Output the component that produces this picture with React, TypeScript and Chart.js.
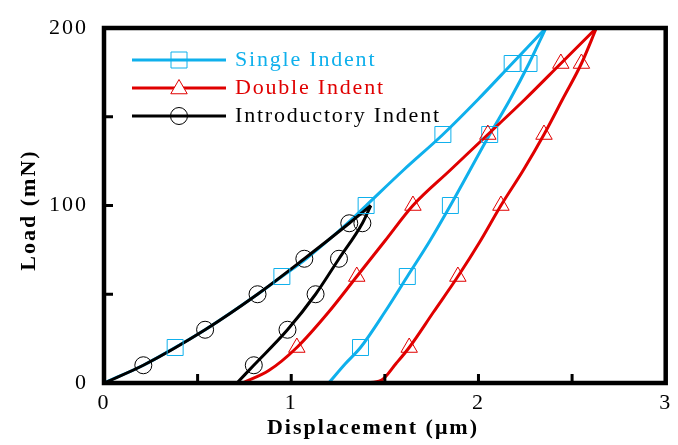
import React, { useEffect, useRef } from 'react';
import { Chart, registerables } from 'chart.js';
Chart.register(...registerables);

const BLUE = '#0fb0ec';
const RED = '#e00000';
const BLACK = '#000000';
const FONT = '"Liberation Serif", "Times New Roman", serif';

const xTickValues = [0, 1, 2, 3];
const yTickValues = [0, 100, 200];
const xMinorTicks = [0.5, 1, 1.5, 2, 2.5];
const yMinorTicks = [50, 100, 150];

const seriesNames = ['Single Indent', 'Double Indent', 'Introductory Indent'];

// Single Indent
const singleLoadX = [0, 0.21, 0.38, 0.54, 0.82, 0.95, 1.08, 1.3, 1.4, 1.6, 1.81, 2.0, 2.18, 2.36];
const singleLoadY = [0, 10, 20, 30, 50, 60, 70, 90, 100, 120, 140, 160, 180, 200];
const singleUnloadX = [1.2, 1.29, 1.37, 1.5, 1.62, 1.74, 1.85, 2.06, 2.17, 2.27, 2.36];
const singleUnloadY = [0, 11, 20, 40, 60, 80, 100, 140, 160, 180, 200];
const singleMarkX = [0.38, 0.95, 1.4, 1.81, 2.18, 2.27, 2.06, 1.85, 1.62, 1.37];
const singleMarkY = [20, 60, 100, 140, 180, 180, 140, 100, 60, 20];

// Double Indent
const doubleLoadX = [0.74, 0.88, 1.03, 1.2, 1.35, 1.5, 1.65, 1.85, 2.05, 2.25, 2.44, 2.63];
const doubleLoadY = [0, 7, 20, 40, 60, 80, 100, 120, 140, 160, 180, 200];
const doubleUnloadX = [1.4, 1.48, 1.56, 1.63, 1.76, 1.89, 2.01, 2.12, 2.24, 2.35, 2.45, 2.55, 2.63];
const doubleUnloadY = [0, 1.5, 11, 20, 40, 60, 80, 100, 120, 140, 160, 180, 200];
const doubleMarkX = [1.03, 1.35, 1.65, 2.05, 2.44, 2.55, 2.35, 2.12, 1.89, 1.63];
const doubleMarkY = [20, 60, 100, 140, 180, 180, 140, 100, 60, 20];

// Introductory Indent
const introLoadX = [0, 0.21, 0.54, 0.82, 1.07, 1.31, 1.425];
const introLoadY = [0, 10, 30, 50, 70, 90, 100];
const introUnloadX = [0.71, 0.8, 0.98, 1.13, 1.255, 1.38, 1.425];
const introUnloadY = [0, 10, 30, 50, 70, 90, 100];
const introMarkX = [0.21, 0.54, 0.82, 1.07, 1.31, 1.38, 1.255, 1.13, 0.98, 0.8];
const introMarkY = [10, 30, 50, 70, 90, 90, 70, 50, 30, 10];

const pts = (xs: number[], ys: number[]) => xs.map((x, i) => ({ x, y: ys[i] }));

function drawMarker(ctx: CanvasRenderingContext2D, style: string, x: number, y: number, color: string) {
  ctx.save();
  ctx.strokeStyle = color;
  ctx.lineWidth = 1;
  ctx.fillStyle = '#ffffff';
  ctx.beginPath();
  if (style === 'rect') {
    ctx.rect(x - 8, y - 8, 16, 16);
    ctx.stroke();
  } else if (style === 'triangle') {
    const r = 9.5;
    ctx.moveTo(x, y - r);
    ctx.lineTo(x + r * Math.sin(Math.PI * 2 / 3), y + r / 2);
    ctx.lineTo(x - r * Math.sin(Math.PI * 2 / 3), y + r / 2);
    ctx.closePath();
    ctx.fill();
    ctx.stroke();
  } else {
    ctx.arc(x, y, 8.5, 0, Math.PI * 2);
    ctx.stroke();
  }
  ctx.restore();
}

const decorPlugin = {
  id: 'decor',
  beforeDraw(chart: any) {
    (chart.ctx as any).letterSpacing = '2px';
  },
  afterDraw(chart: any) {
    const ctx: CanvasRenderingContext2D = chart.ctx;
    const { left, right, top, bottom } = chart.chartArea;
    const xs = chart.scales.x;
    const ys = chart.scales.y;
    ctx.save();
    (ctx as any).letterSpacing = '0px';
    // inward ticks
    ctx.strokeStyle = '#000';
    ctx.lineWidth = 3;
    ctx.beginPath();
    xMinorTicks.forEach((v) => {
      const px = xs.getPixelForValue(v);
      ctx.moveTo(px, bottom);
      ctx.lineTo(px, bottom - 9);
    });
    yMinorTicks.forEach((v) => {
      const py = ys.getPixelForValue(v);
      ctx.moveTo(left, py);
      ctx.lineTo(left + 9, py);
    });
    ctx.stroke();
    // frame
    ctx.lineWidth = 4.5;
    ctx.strokeRect(left, top, right - left, bottom - top);

    // legend
    const rows = [
      { name: seriesNames[0], color: BLUE, style: 'rect', y: 60 },
      { name: seriesNames[1], color: RED, style: 'triangle', y: 88 },
      { name: seriesNames[2], color: BLACK, style: 'circle', y: 116 },
    ];
    rows.forEach((r) => {
      ctx.strokeStyle = r.color;
      ctx.lineWidth = 3;
      ctx.beginPath();
      ctx.moveTo(132, r.y);
      ctx.lineTo(226, r.y);
      ctx.stroke();
      drawMarker(ctx, r.style, 179, r.style === 'triangle' ? r.y + 1 : r.y, r.color);
      ctx.fillStyle = r.color;
      ctx.font = `22px ${FONT}`;
      (ctx as any).letterSpacing = '1.8px';
      ctx.textAlign = 'left';
      ctx.textBaseline = 'middle';
      ctx.fillText(r.name, 235, r.y);
    });

    // axis titles
    ctx.fillStyle = '#000';
    ctx.font = `bold 22px ${FONT}`;
    (ctx as any).letterSpacing = '2px';
    ctx.textAlign = 'center';
    ctx.textBaseline = 'middle';
    ctx.fillText('Displacement (\u03bcm)', 373, 428);
    ctx.translate(29, 210);
    ctx.rotate(-Math.PI / 2);
    ctx.fillText('Load (mN)', 0, 0);
    ctx.restore();
    (ctx as any).letterSpacing = '0px';
  },
};

export default function App() {
  const ref = useRef<HTMLCanvasElement>(null);
  useEffect(() => {
    if (!ref.current) return;
    const lineDs = (data: any[], color: string, order: number) => ({
      type: 'scatter' as const,
      data,
      showLine: true,
      borderColor: color,
      backgroundColor: color,
      borderWidth: 3,
      pointRadius: 0,
      pointHoverRadius: 0,
      fill: false,
      cubicInterpolationMode: 'monotone' as const,
      order,
    });
    const markDs = (data: any[], color: string, style: string, r: number, fillColor: string, order: number) => ({
      type: 'scatter' as const,
      data,
      showLine: false,
      borderColor: color,
      backgroundColor: fillColor,
      pointStyle: style as any,
      pointRadius: r,
      pointHoverRadius: r,
      pointBorderWidth: 1,
      order,
    });
    const datasets: any[] = [
      markDs(pts(introMarkX, introMarkY), BLACK, 'circle', 8.5, 'rgba(0,0,0,0)', 0),
      markDs(pts(doubleMarkX, doubleMarkY), RED, 'triangle', 9.5, 'rgba(255,255,255,0)', 0),
      markDs(pts(singleMarkX, singleMarkY), BLUE, 'rect', 11.3, 'rgba(0,0,0,0)', 0),
      lineDs(pts(introLoadX, introLoadY), BLACK, 1),
      lineDs(pts(introUnloadX, introUnloadY), BLACK, 1),
      lineDs(pts(doubleLoadX, doubleLoadY), RED, 2),
      lineDs(pts(doubleUnloadX, doubleUnloadY), RED, 2),
      lineDs(pts(singleLoadX, singleLoadY), BLUE, 3),
      lineDs(pts(singleUnloadX, singleUnloadY), BLUE, 3),
    ];
    const chart = new Chart(ref.current, {
      type: 'scatter',
      data: { datasets },
      options: {
        animation: false,
        responsive: false,
        maintainAspectRatio: false,
        layout: { padding: { top: 28, right: 10, left: 0, bottom: 0 } },
        plugins: { legend: { display: false }, tooltip: { enabled: false } },
        scales: {
          x: {
            type: 'linear',
            min: 0,
            max: 3,
            afterBuildTicks: (s: any) => { s.ticks = xTickValues.map((v) => ({ value: v })); },
            ticks: { color: '#000', font: { family: FONT, size: 22 }, padding: -1, maxRotation: 0, autoSkip: false, callback: (v: any) => String(v) },
            grid: { display: false },
            border: { display: false },
            afterFit: (s: any) => { s.height = 62; },
          },
          y: {
            type: 'linear',
            min: 0,
            max: 200,
            afterBuildTicks: (s: any) => { s.ticks = yTickValues.map((v) => ({ value: v })); },
            ticks: { color: '#000', font: { family: FONT, size: 22 }, padding: 8, autoSkip: false, callback: (v: any) => String(v) },
            grid: { display: false },
            border: { display: false },
            afterFit: (s: any) => { s.width = 104; },
          },
        },
      } as any,
      plugins: [decorPlugin],
    });
    return () => chart.destroy();
  }, []);
  return (
    <div style={{ position: 'fixed', left: 0, top: 0, width: 678, height: 445, background: '#fff' }}>
      <canvas ref={ref} width={678} height={445} style={{ display: 'block' }} />
    </div>
  );
}
